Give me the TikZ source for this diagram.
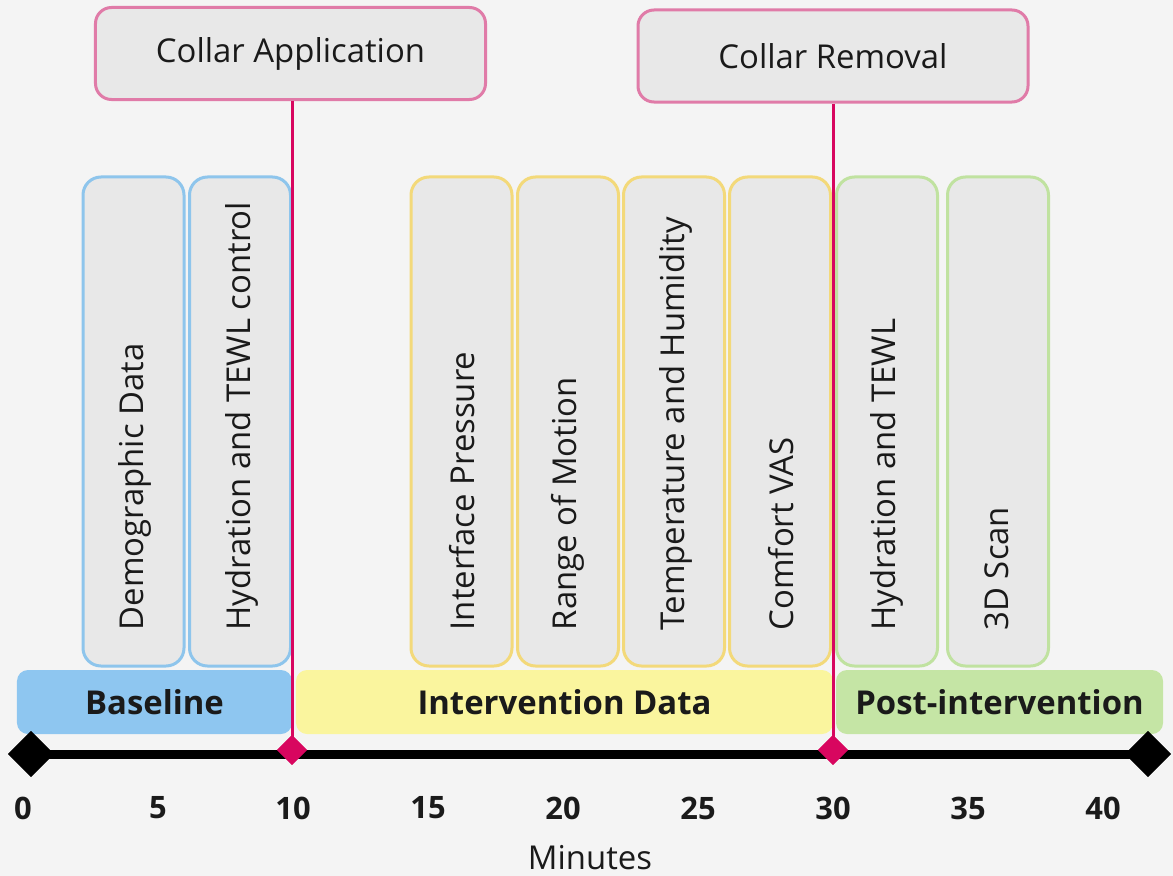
\documentclass[tikz,border=0pt]{standalone}
\usepackage{fontspec}
\setmainfont{Open Sans}
\usetikzlibrary{shapes.geometric,calc}
\definecolor{bg}{HTML}{F4F4F4}
\definecolor{boxfill}{HTML}{E8E8E8}
\definecolor{blueline}{HTML}{8EC5EC}
\definecolor{bluefill}{HTML}{8EC6F0}
\definecolor{yelline}{HTML}{F3D97A}
\definecolor{yelfill}{HTML}{FAF59E}
\definecolor{grnline}{HTML}{C0E2A0}
\definecolor{grnfill}{HTML}{C5E5A5}
\definecolor{pinkline}{HTML}{E07BA8}
\definecolor{crimson}{HTML}{D8065F}
\definecolor{ink}{HTML}{1A1A1A}
\tikzset{
  vbox/.style={draw=#1, line width=3bp, fill=boxfill, rounded corners=18bp, minimum width=101bp, minimum height=489bp, inner sep=0pt},
  vtext/.style={rotate=90, anchor=west, text=ink, font=\fontsize{33}{38}\selectfont, inner sep=0pt},
  phase/.style={fill=#1, draw=none, rounded corners=11bp, minimum height=64bp, inner sep=0pt},
  phasetext/.style={text=ink, font=\fontsize{33}{38}\selectfont\bfseries},
  topbox/.style={draw=pinkline, line width=3bp, fill=boxfill, rounded corners=16bp, minimum width=390bp, minimum height=92bp, inner sep=0pt, text=ink, font=\fontsize{33}{38}\selectfont},
  tick/.style={text=ink, font=\fontsize{31}{36}\selectfont\bfseries, inner sep=0pt},
  bigdia/.style={diamond, fill=black, minimum width=46bp, minimum height=46bp, inner sep=0pt},
  smalldia/.style={diamond, fill=crimson, minimum width=30bp, minimum height=30bp, inner sep=0pt},
  marker/.style={draw=crimson, line width=3bp},
}
\begin{document}
\begin{tikzpicture}[x=1bp,y=-1bp]
\fill[bg] (0,0) rectangle (1173,876);
\useasboundingbox (0,0) rectangle (1173,876);

% top boxes
\node[topbox] (app) at (290.5,53.5) {Collar Application};
\node[topbox] (rem) at (833,56) {Collar Removal};

% vertical measurement boxes
\node[vbox=blueline] (demo) at (133.5,421.5) {};
\node[vbox=blueline] (hydc) at (240,421.5) {};
\node[vbox=yelline] (ip) at (461.5,421.5) {};
\node[vbox=yelline] (rom) at (568,421.5) {};
\node[vbox=yelline] (th) at (674,421.5) {};
\node[vbox=yelline] (vas) at (780,421.5) {};
\node[vbox=grnline] (hyd) at (887,421.5) {};
\node[vbox=grnline] (scan) at (998,421.5) {};

\node[vtext] at ($(demo.south)+(1,-37)$) {Demographic Data};
\node[vtext] at ($(hydc.south)+(2,-37)$) {Hydration and TEWL control};
\node[vtext] at ($(ip.south)+(1,-37)$) {Interface Pressure};
\node[vtext] at ($(rom.south)+(0,-37)$) {Range of Motion};
\node[vtext] at ($(th.south)+(2,-37)$) {Temperature and Humidity};
\node[vtext] at ($(vas.south)+(1,-37)$) {Comfort VAS};
\node[vtext] at ($(hyd.south)+(0,-37)$) {Hydration and TEWL};
\node[vtext] at ($(scan.south)+(-1,-37)$) {3D Scan};

% phase bars
\node[phase=bluefill, minimum width=275bp] (base) at (154.5,702) {};
\node[phase=yelfill, minimum width=537bp] (inter) at (564.5,702) {};
\node[phase=grnfill, minimum width=327bp] (post) at (999.5,702) {};
\node[phasetext] at (base) {Baseline};
\node[phasetext] at (inter) {Intervention Data};
\node[phasetext] at (post) {Post-intervention};

% axis
\node[bigdia] (start) at (31,754) {};
\node[bigdia] (end) at (1148,754) {};
\draw[line width=9bp] (start.center) -- (end.center);
\node[bigdia] at (start) {};
\node[bigdia] at (end) {};

% markers
\node[smalldia] (m10) at (292,750) {};
\node[smalldia] (m30) at (833,750) {};
\draw[marker] (app.south -| m10) -- (m10.center);
\draw[marker] (rem.south -| m30) -- (m30.center);
\node[smalldia] at (m10) {};
\node[smalldia] at (m30) {};

% ticks
\foreach \t [count=\i from 0] in {0,5,10,15,20,25,30,35,40}{
  \node[tick] at (23+135*\i,808) {\t};
}
\node[text=ink, font=\fontsize{33}{38}\selectfont] at (590,858) {Minutes};
\end{tikzpicture}
\end{document}
